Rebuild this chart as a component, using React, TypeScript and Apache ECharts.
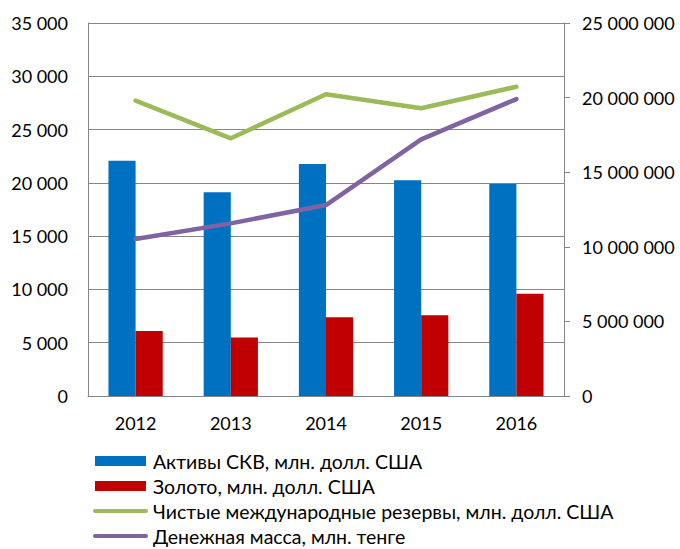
import React, { useEffect, useRef } from "react";
import * as echarts from "echarts";

const years = ["2012", "2013", "2014", "2015", "2016"];
const fxAssets = [22080, 19110, 21770, 20240, 19890];
const gold = [6100, 5500, 7380, 7570, 9600];
const netReserves = [27710, 24180, 28310, 27000, 29020];
const moneySupply = [10520000, 11570000, 12800000, 17200000, 19900000];

const seriesNames = [
  "Активы СКВ, млн. долл. США",
  "Золото, млн. долл. США",
  "Чистые международные резервы, млн. долл. США",
  "Денежная масса, млн. тенге",
];

const fmt = (v: number) => String(Math.round(v)).replace(/\B(?=(\d{3})+(?!\d))/g, " ");

const FONT = "Lato";
const GRAY = "#868686";

export default function App() {
  const ref = useRef<HTMLDivElement>(null);
  useEffect(() => {
    if (!ref.current) return;
    const chart = echarts.init(ref.current, undefined, { renderer: "svg" });
    chart.setOption({
      animation: false,
      backgroundColor: "#ffffff",
      textStyle: { fontFamily: FONT },
      grid: { left: 88, right: 116, top: 23, bottom: 153 },
      legend: {
        orient: "vertical",
        left: 88,
        top: 446,
        height: 140,
        itemWidth: 51,
        itemHeight: 10,
        itemGap: 5,
        textStyle: { fontSize: 19.5, lineHeight: 20, color: "#000", fontFamily: FONT, padding: [0, 0, 0, 2] },
        data: [
          { name: seriesNames[0], icon: "rect" },
          { name: seriesNames[1], icon: "rect" },
          { name: seriesNames[2], itemStyle: { opacity: 0 }, lineStyle: { width: 4, cap: "round" } },
          { name: seriesNames[3], itemStyle: { opacity: 0 }, lineStyle: { width: 4, cap: "round" } },
        ],
      },
      xAxis: {
        type: "category",
        data: years,
        axisLine: { show: true, lineStyle: { color: GRAY, width: 1 } },
        axisTick: { show: false },
        axisLabel: { fontSize: 18, color: "#000", margin: 18, fontFamily: FONT },
      },
      yAxis: [
        {
          type: "value",
          min: 0,
          max: 35000,
          interval: 5000,
          axisLine: { show: true, lineStyle: { color: GRAY, width: 1 } },
          axisTick: { show: false },
          axisLabel: { fontSize: 18, color: "#000", margin: 20, formatter: fmt, fontFamily: FONT },
          splitLine: { show: true, lineStyle: { color: GRAY, width: 1 } },
        },
        {
          type: "value",
          position: "right",
          min: 0,
          max: 25000000,
          interval: 5000000,
          axisLine: { show: true, lineStyle: { color: GRAY, width: 1 } },
          axisTick: { show: true, inside: false, length: 6, lineStyle: { color: GRAY } },
          axisLabel: { fontSize: 18, color: "#000", margin: 18, formatter: fmt, fontFamily: FONT },
          splitLine: { show: false },
        },
      ],
      series: [
        {
          name: seriesNames[0],
          type: "bar",
          data: fxAssets,
          itemStyle: { color: "#0070C0" },
          barGap: "0%",
          barCategoryGap: "43%",
        },
        {
          name: seriesNames[1],
          type: "bar",
          data: gold,
          itemStyle: { color: "#C00000" },
          barGap: "0%",
          barCategoryGap: "43%",
        },
        {
          name: seriesNames[2],
          type: "line",
          data: netReserves,
          yAxisIndex: 0,
          symbol: "none",
          itemStyle: { color: "#9BBB59" },
          lineStyle: { color: "#9BBB59", width: 4.5, cap: "round", join: "round" },
        },
        {
          name: seriesNames[3],
          type: "line",
          data: moneySupply,
          yAxisIndex: 1,
          symbol: "none",
          itemStyle: { color: "#8064A2" },
          lineStyle: { color: "#8064A2", width: 4.5, cap: "round", join: "round" },
        },
      ],
    });
    return () => chart.dispose();
  }, []);
  return (
    <div
      ref={ref}
      style={{ position: "fixed", left: 0, top: 0, width: 680, height: 549 }}
    />
  );
}
